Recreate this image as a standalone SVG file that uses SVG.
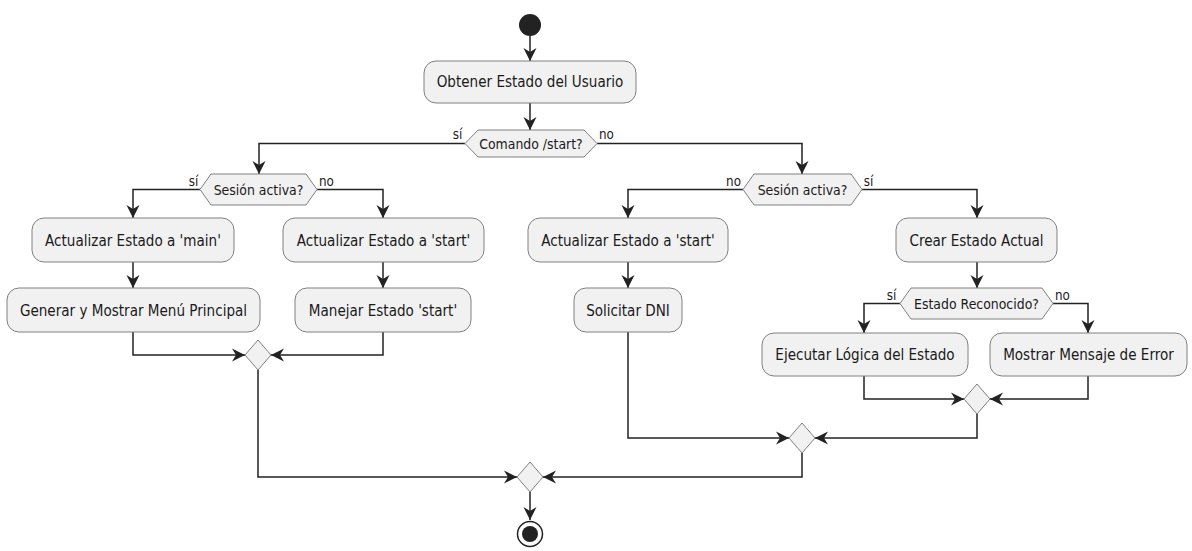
<svg xmlns="http://www.w3.org/2000/svg" width="1192" height="551" viewBox="0 0 1192 551">
<style>
.bg{fill:#ffffff}
.act{fill:#F1F1F1;stroke:#808080;stroke-width:1}
.dec{fill:#F1F1F1;stroke:#808080;stroke-width:1}
text{transform-box:fill-box;transform-origin:center;transform:scaleX(0.88)}
.t{font-family:"DejaVu Sans",sans-serif;font-size:15.4px;fill:#1a1a1a;text-anchor:middle}
.td{font-family:"DejaVu Sans",sans-serif;font-size:14.2px;fill:#1a1a1a;text-anchor:middle}
.lb{font-family:"DejaVu Sans",sans-serif;font-size:13.6px;fill:#1a1a1a}
.c{fill:none;stroke:#222;stroke-width:1.5;marker-end:url(#ah)}
</style>
<defs>
<marker id="ah" viewBox="-14 -7 15 14" refX="0" refY="0" markerWidth="15" markerHeight="14" markerUnits="userSpaceOnUse" orient="auto">
<path d="M0,0 L-13,-6.5 L-9,0 L-13,6.5 Z" fill="#222"/>
</marker>
</defs>
<rect class="bg" x="0" y="0" width="1192" height="551"/>

<g id="connectors">
<path class="c" d="M530,36 V61"/>
<path class="c" d="M530,103 V130"/>
<path class="c" d="M465,143.5 H259 V174"/>
<path class="c" d="M597,143.5 H802 V174"/>
<path class="c" d="M200,189.5 H133 V218"/>
<path class="c" d="M317,189.5 H383 V218"/>
<path class="c" d="M133,262 V288"/>
<path class="c" d="M383,262 V288"/>
<path class="c" d="M133,332 V355 H245"/>
<path class="c" d="M383,332 V355 H271"/>
<path class="c" d="M258,370 V477 H517"/>
<path class="c" d="M743,189.5 H628 V218"/>
<path class="c" d="M862,189.5 H977 V218"/>
<path class="c" d="M628,262 V288"/>
<path class="c" d="M628,332 V438 H789"/>
<path class="c" d="M977,262 V288"/>
<path class="c" d="M900,303.5 H864 V333"/>
<path class="c" d="M1053,303.5 H1088 V333"/>
<path class="c" d="M864,376 V399 H964"/>
<path class="c" d="M1088,376 V399 H990"/>
<path class="c" d="M977,414 V438 H815"/>
<path class="c" d="M802,453 V477 H543"/>
<path class="c" d="M530,492 V520"/>
<text class="lb" x="463" y="139" text-anchor="end">sí</text>
<text class="lb" x="598" y="139">no</text>
<text class="lb" x="199" y="186" text-anchor="end">sí</text>
<text class="lb" x="318" y="186">no</text>
<text class="lb" x="742" y="186" text-anchor="end">no</text>
<text class="lb" x="863" y="186">sí</text>
<text class="lb" x="897" y="300" text-anchor="end">sí</text>
<text class="lb" x="1054" y="300">no</text>
</g>

<g id="start"><circle cx="530" cy="25" r="11" fill="#222"/></g>

<g id="obtener"><rect class="act" x="424" y="61" width="212" height="42" rx="12"/><text class="t" x="530" y="87">Obtener Estado del Usuario</text></g>

<g id="comando"><polygon class="dec" points="465,143.5 478,130 584,130 597,143.5 584,157 478,157"/><text class="td" x="531" y="149">Comando /start?</text></g>

<g id="sesion1"><polygon class="dec" points="200,189.5 211,174 306,174 317,189.5 306,205 211,205"/><text class="td" x="258.5" y="195">Sesión activa?</text></g>

<g id="actMain"><rect class="act" x="32" y="218" width="202" height="44" rx="12"/><text class="t" x="133" y="246">Actualizar Estado a 'main'</text></g>

<g id="actStart1"><rect class="act" x="283" y="218" width="201" height="44" rx="12"/><text class="t" x="383.5" y="246">Actualizar Estado a 'start'</text></g>

<g id="menu"><rect class="act" x="7" y="288" width="253" height="44" rx="12"/><text class="t" x="133.5" y="316">Generar y Mostrar Menú Principal</text></g>

<g id="manejar"><rect class="act" x="295" y="288" width="176" height="44" rx="12"/><text class="t" x="383" y="316">Manejar Estado 'start'</text></g>

<g id="merge1"><polygon class="dec" points="258,340 271,355 258,370 245,355"/></g>

<g id="sesion2"><polygon class="dec" points="743,189.5 754,174 851,174 862,189.5 851,205 754,205"/><text class="td" x="802.5" y="195">Sesión activa?</text></g>

<g id="actStart2"><rect class="act" x="528" y="218" width="200" height="44" rx="12"/><text class="t" x="628" y="246">Actualizar Estado a 'start'</text></g>

<g id="dni"><rect class="act" x="574" y="288" width="108" height="44" rx="12"/><text class="t" x="628" y="316">Solicitar DNI</text></g>

<g id="crear"><rect class="act" x="896" y="218" width="161" height="44" rx="12"/><text class="t" x="976.5" y="246">Crear Estado Actual</text></g>

<g id="reconocido"><polygon class="dec" points="900,303.5 911,288 1042,288 1053,303.5 1042,319 911,319"/><text class="td" x="976.5" y="309">Estado Reconocido?</text></g>

<g id="ejecutar"><rect class="act" x="762" y="333" width="206" height="43" rx="12"/><text class="t" x="865" y="360">Ejecutar Lógica del Estado</text></g>

<g id="error"><rect class="act" x="990" y="333" width="197" height="43" rx="12"/><text class="t" x="1088.5" y="360">Mostrar Mensaje de Error</text></g>

<g id="merge3"><polygon class="dec" points="977,384 990,399 977,414 964,399"/></g>

<g id="merge2"><polygon class="dec" points="802,423 815,438 802,453 789,438"/></g>

<g id="merge0"><polygon class="dec" points="530,462 543,477 530,492 517,477"/></g>

<g id="end"><circle cx="530" cy="534" r="12.5" fill="#fff" stroke="#222" stroke-width="1.5"/><circle cx="530" cy="534" r="8" fill="#222"/></g>
</svg>
